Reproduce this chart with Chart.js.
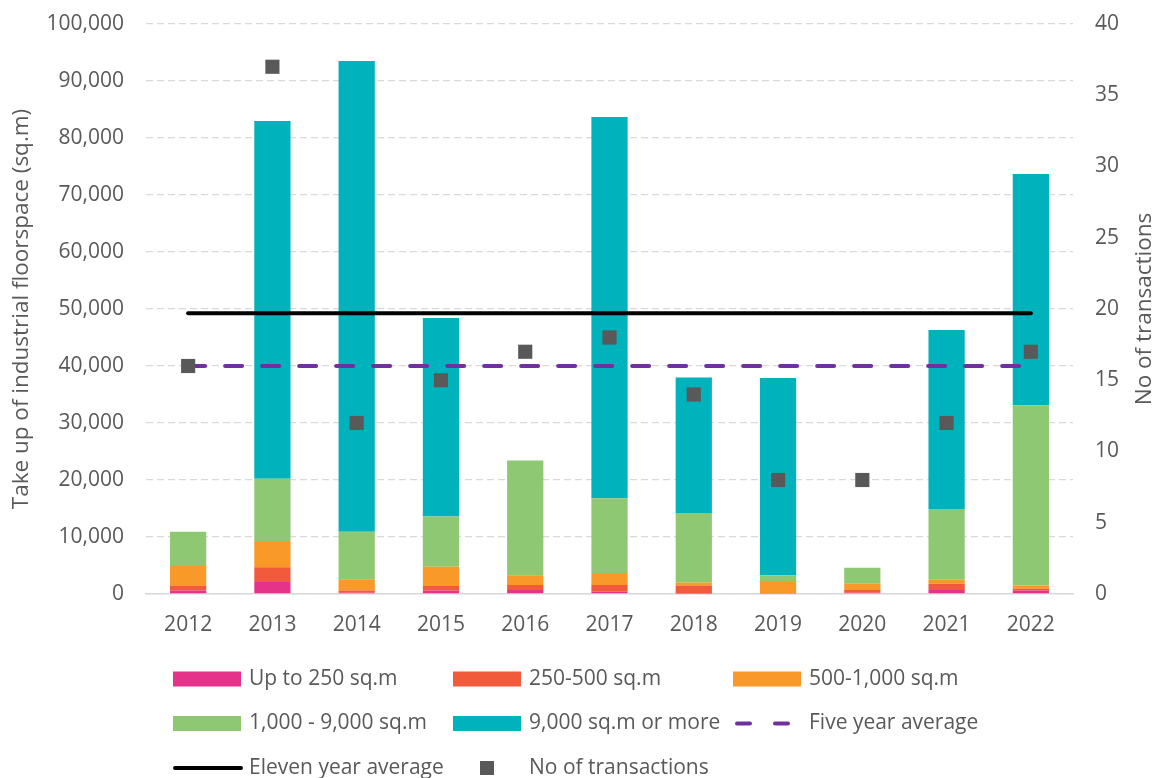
<!DOCTYPE html>
<html>
<head>
<meta charset="utf-8">
<title>Take up of industrial floorspace</title>
<script src="https://cdn.jsdelivr.net/npm/chart.js@4.4.1/dist/chart.umd.min.js"></script>
<style>
  html, body { margin: 0; padding: 0; background: #fff; }
</style>
</head>
<body>
<canvas id="takeUp" width="1157" height="778"></canvas>
<script>
const years = ['2012', '2013', '2014', '2015', '2016', '2017', '2018', '2019', '2020', '2021', '2022'];

// floorspace taken up per size band (sq.m)
const upTo250 = [600, 2100, 200, 600, 700, 400, 100, 100, 200, 700, 600];
const from250to500 = [900, 2600, 400, 800, 900, 1200, 1400, 0, 500, 1100, 300];
const from500to1000 = [3400, 4600, 2000, 3400, 1700, 2100, 500, 2200, 1100, 700, 600];
const from1000to9000 = [6000, 10900, 8300, 8800, 20100, 13100, 12200, 1000, 2800, 12400, 31600];
const over9000 = [0, 62800, 82600, 34800, 0, 66900, 23800, 34600, 0, 31400, 40600];

const fiveYearAvg = [40000, 40000, 40000, 40000, 40000, 40000, 40000, 40000, 40000, 40000, 40000];
const elevenYearAvg = [49250, 49250, 49250, 49250, 49250, 49250, 49250, 49250, 49250, 49250, 49250];

const transactions = [16, 37, 12, 15, 17, 18, 14, 8, 8, 12, 17];

const textColor = '#595959';
const gridColor = '#D9D9D9';

Chart.defaults.font.family = "'Open Sans', sans-serif";
Chart.defaults.font.size = 21;
Chart.defaults.color = textColor;

const barBand = (label, data, color) => ({
  label: label,
  data: data,
  backgroundColor: color,
  borderWidth: 0,
  stack: 'floorspace',
  yAxisID: 'y',
  order: 3,
  barPercentage: 0.43,
  categoryPercentage: 1
});

// fixed-width side axes, no extra top/bottom space for the end labels
const fitSide = (width) => (scale) => {
  scale.width = width;
  scale.paddingTop = 0;
  scale.paddingBottom = 0;
};

// grid legend under the chart + right axis title reading bottom-to-top
const gridLegend = {
  id: 'gridLegend',
  afterDraw(chart) {
    const ctx = chart.ctx;
    ctx.save();
    ctx.font = "21px 'Open Sans', sans-serif";
    ctx.textBaseline = 'middle';
    ctx.textAlign = 'left';

    chart.data.datasets.forEach((ds, i) => {
      const col = i % 3;
      const row = Math.floor(i / 3);
      const x0 = 173 + col * 280;
      const yc = 679 + row * 44.5;

      if (ds.type === 'line' && ds.showLine === false) {
        ctx.fillStyle = ds.backgroundColor;
        ctx.fillRect(x0 + 27, yc - 7, 14, 14);
      } else if (ds.type === 'line') {
        ctx.strokeStyle = ds.borderColor;
        ctx.lineWidth = 4;
        ctx.lineCap = 'round';
        ctx.beginPath();
        if (ds.borderDash) {
          ctx.moveTo(x0 + 4, yc); ctx.lineTo(x0 + 17, yc);
          ctx.moveTo(x0 + 42, yc); ctx.lineTo(x0 + 55, yc);
        } else {
          ctx.moveTo(x0 + 2, yc); ctx.lineTo(x0 + 68, yc);
        }
        ctx.stroke();
      } else {
        ctx.fillStyle = ds.backgroundColor;
        ctx.fillRect(x0, yc - 7.5, 68, 15);
      }

      ctx.fillStyle = textColor;
      ctx.fillText(ds.label, x0 + 76, yc);
    });

    ctx.font = "22.5px 'Open Sans', sans-serif";
    const area = chart.chartArea;
    ctx.translate(1145, (area.top + area.bottom) / 2);
    ctx.rotate(-Math.PI / 2);
    ctx.textAlign = 'center';
    ctx.fillText('No of transactions', 0, 0);
    ctx.restore();
  }
};

const ctxTakeUp = document.getElementById('takeUp');

const takeUpChart = new Chart(ctxTakeUp, {
  type: 'bar',
  data: {
    labels: years,
    datasets: [
      barBand('Up to 250 sq.m', upTo250, '#E6338A'),
      barBand('250-500 sq.m', from250to500, '#F15A3A'),
      barBand('500-1,000 sq.m', from500to1000, '#F9992A'),
      barBand('1,000 - 9,000 sq.m', from1000to9000, '#8FC873'),
      barBand('9,000 sq.m or more', over9000, '#00B2BB'),
      {
        type: 'line',
        label: 'Five year average',
        data: fiveYearAvg,
        borderColor: '#7030A0',
        borderWidth: 4,
        borderDash: [17, 20],
        borderCapStyle: 'round',
        pointRadius: 0,
        stack: 'fiveYear',
        yAxisID: 'y',
        order: 2
      },
      {
        type: 'line',
        label: 'Eleven year average',
        data: elevenYearAvg,
        borderColor: '#000000',
        borderWidth: 4,
        borderCapStyle: 'round',
        pointRadius: 0,
        stack: 'elevenYear',
        yAxisID: 'y',
        order: 1
      },
      {
        type: 'line',
        label: 'No of transactions',
        data: transactions,
        showLine: false,
        pointStyle: 'rect',
        pointRadius: 10,
        pointHoverRadius: 10,
        pointBorderWidth: 0,
        backgroundColor: '#595959',
        borderColor: '#595959',
        yAxisID: 'y1',
        order: 0
      }
    ]
  },
  options: {
    responsive: false,
    animation: false,
    layout: {
      padding: { top: 24, left: 0, right: 0, bottom: 0 }
    },
    plugins: {
      legend: { display: false },
      tooltip: { enabled: false }
    },
    scales: {
      x: {
        stacked: true,
        grid: { display: false },
        border: { display: true, color: gridColor, width: 1.5 },
        ticks: { padding: 10 },
        afterFit: (scale) => { scale.height = 184; }
      },
      y: {
        stacked: true,
        position: 'left',
        min: 0,
        max: 100000,
        ticks: {
          stepSize: 10000,
          padding: 22,
          callback: (value) => value.toLocaleString('en-US')
        },
        grid: { color: gridColor, lineWidth: 1.3, drawTicks: false },
        border: { display: false, dash: [7, 4] },
        title: {
          display: true,
          text: 'Take up of industrial floorspace (sq.m)',
          font: { size: 22.5 },
          padding: { top: 8, bottom: 0 }
        },
        afterFit: fitSide(146)
      },
      y1: {
        position: 'right',
        min: 0,
        max: 40,
        ticks: { stepSize: 5, padding: 22 },
        grid: { display: false, drawTicks: false },
        border: { display: false },
        afterFit: fitSide(84)
      }
    }
  },
  plugins: [gridLegend]
});
</script>
</body>
</html>
